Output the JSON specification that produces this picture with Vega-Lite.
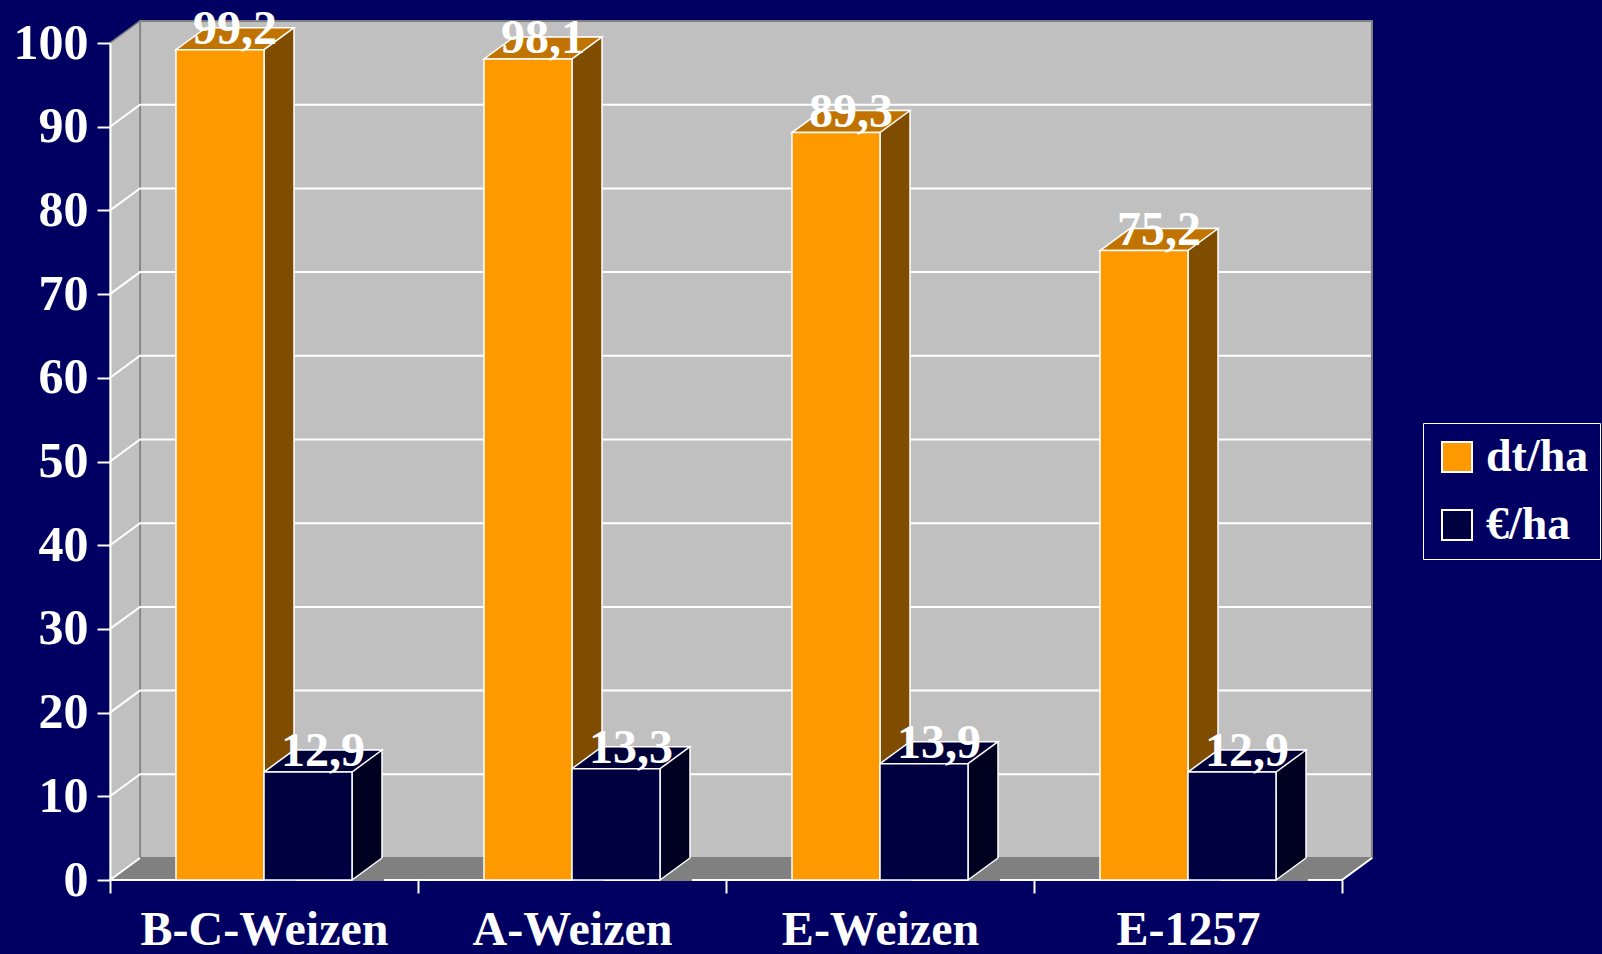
{
  "$schema": "https://vega.github.io/schema/vega-lite/v6.json",
  "width": 1262,
  "height": 859,
  "autosize": {"type": "none"},
  "padding": {"left": 110, "top": 21, "right": 230, "bottom": 74},
  "background": "#000063",
  "config": {
    "view": {"stroke": null},
    "font": "Liberation Serif",
    "locale": {"number": {"decimal": ",", "thousands": ".", "grouping": [3], "currency": ["", " €"]}}
  },
  "datasets": {
    "ertrag": [
      {"sorte": "B-C-Weizen", "serie": "dt/ha", "wert": 99.2},
      {"sorte": "B-C-Weizen", "serie": "€/ha", "wert": 12.9},
      {"sorte": "A-Weizen", "serie": "dt/ha", "wert": 98.1},
      {"sorte": "A-Weizen", "serie": "€/ha", "wert": 13.3},
      {"sorte": "E-Weizen", "serie": "dt/ha", "wert": 89.3},
      {"sorte": "E-Weizen", "serie": "€/ha", "wert": 13.9},
      {"sorte": "E-1257", "serie": "dt/ha", "wert": 75.2},
      {"sorte": "E-1257", "serie": "€/ha", "wert": 12.9}
    ],
    "raster": [
      {"v": 0}, {"v": 10}, {"v": 20}, {"v": 30}, {"v": 40}, {"v": 50},
      {"v": 60}, {"v": 70}, {"v": 80}, {"v": 90}, {"v": 100}
    ]
  },
  "data": {"name": "ertrag"},
  "layer": [
    {
      "data": {"name": "raster"},
      "transform": [{"filter": "datum.v === 0"}],
      "mark": {"type": "point", "shape": "M30,-22L1262,-22L1262,-859L30,-859Z", "size": 4, "filled": true, "fill": "#C0C0C0", "stroke": "#808080", "strokeWidth": 2, "opacity": 1},
      "encoding": {
        "x": {
          "datum": "B-C-Weizen", "type": "nominal", "bandPosition": 0,
          "scale": {"domain": ["B-C-Weizen", "A-Weizen", "E-Weizen", "E-1257"], "range": [0, 1262], "paddingInner": 0, "paddingOuter": 0.0487, "align": 0, "round": false},
          "axis": {"title": null, "domain": false, "tickBand": "extent", "tickColor": "white", "tickWidth": 2, "tickSize": 13, "labelColor": "white", "labelFont": "Liberation Serif", "labelFontWeight": "bold", "labelFontSize": 48, "labelPadding": 13, "labelAngle": 0, "labelLimit": 500, "zindex": 1, "grid": false}
        },
        "y": {
          "datum": 0, "type": "quantitative",
          "scale": {"domain": [0, 100], "range": [859, 22], "nice": false},
          "axis": {"title": null, "values": [0, 10, 20, 30, 40, 50, 60, 70, 80, 90, 100], "grid": false, "domainColor": "white", "domainWidth": 2, "tickColor": "white", "tickWidth": 2, "tickSize": 13, "labelColor": "white", "labelFont": "Liberation Serif", "labelFontWeight": "bold", "labelFontSize": 50, "labelPadding": 9, "zindex": 1}
        }
      }
    },
    {
      "data": {"name": "raster"},
      "transform": [{"filter": "datum.v === 0"}],
      "mark": {"type": "point", "shape": "M0,0L0,-837L30,-859L30,-22Z", "size": 4, "filled": true, "fill": "#C0C0C0", "stroke": "#808080", "strokeWidth": 1.5, "opacity": 1},
      "encoding": {
        "x": {"datum": "B-C-Weizen", "type": "nominal", "bandPosition": 0, "axis": {"title": null}},
        "y": {"datum": 0, "type": "quantitative", "axis": {"title": null}}
      }
    },
    {
      "data": {"name": "raster"},
      "transform": [{"filter": "datum.v === 0"}],
      "mark": {"type": "point", "shape": "M0,0L1232,0L1262,-22L30,-22Z", "size": 4, "filled": true, "fill": "#808080", "strokeWidth": 0, "opacity": 1},
      "encoding": {
        "x": {"datum": "B-C-Weizen", "type": "nominal", "bandPosition": 0, "axis": {"title": null}},
        "y": {"datum": 0, "type": "quantitative", "axis": {"title": null}}
      }
    },
    {
      "data": {"name": "raster"},
      "transform": [{"filter": "datum.v === 0"}],
      "mark": {"type": "point", "shape": "M30,-22L0,0L1232,0L1262,-22", "size": 4, "filled": false, "color": "white", "strokeWidth": 2, "opacity": 1},
      "encoding": {
        "x": {"datum": "B-C-Weizen", "type": "nominal", "bandPosition": 0, "axis": {"title": null}},
        "y": {"datum": 0, "type": "quantitative", "axis": {"title": null}}
      }
    },
    {
      "data": {"name": "raster"},
      "transform": [{"filter": "datum.v > 0 && datum.v < 100"}],
      "mark": {"type": "point", "shape": "M0,0L30,-22L1261,-22", "size": 4, "filled": false, "color": "white", "strokeWidth": 2, "opacity": 1},
      "encoding": {
        "x": {"datum": "B-C-Weizen", "type": "nominal", "bandPosition": 0, "axis": {"title": null}},
        "y": {"field": "v", "type": "quantitative", "axis": {"title": null}}
      }
    },
    {
      "mark": {"type": "bar", "width": 30, "xOffset": {"expr": "datum.serie === 'dt/ha' ? 15 : 103"}, "yOffset": -22, "stroke": "white", "strokeWidth": 1.5},
      "encoding": {
        "x": {"field": "sorte", "type": "nominal", "axis": {"title": null}},
        "y": {"field": "wert", "type": "quantitative", "stack": null, "axis": {"title": null}},
        "fill": {"condition": {"test": "datum.serie === 'dt/ha'", "value": "#7F4C00"}, "value": "#000020"}
      }
    },
    {
      "mark": {"type": "point", "shape": "M44,0L74,-22L76,-22L76,1L44,1Z", "size": 4, "filled": true, "fill": "#808080", "strokeWidth": 0, "opacity": 1},
      "encoding": {
        "x": {"field": "sorte", "type": "nominal", "axis": {"title": null}},
        "xOffset": {"field": "serie", "type": "nominal", "scale": {"domain": ["dt/ha", "€/ha"], "paddingInner": 0, "paddingOuter": 0.75}},
        "y": {"datum": 0, "type": "quantitative", "axis": {"title": null}}
      }
    },
    {
      "mark": {"type": "point", "shape": "M44,0L74,-22", "size": 4, "filled": false, "color": "white", "strokeWidth": 1.5, "opacity": 1},
      "encoding": {
        "x": {"field": "sorte", "type": "nominal", "axis": {"title": null}},
        "xOffset": {"field": "serie", "type": "nominal"},
        "y": {"datum": 0, "type": "quantitative", "axis": {"title": null}}
      }
    },
    {
      "mark": {"type": "point", "shape": "M-44,0L44,0L74,-22L-14,-22Z", "size": 4, "filled": true, "stroke": "white", "strokeWidth": 1.5, "opacity": 1},
      "encoding": {
        "x": {"field": "sorte", "type": "nominal", "axis": {"title": null}},
        "xOffset": {"field": "serie", "type": "nominal"},
        "y": {"field": "wert", "type": "quantitative", "axis": {"title": null}},
        "fill": {"condition": {"test": "datum.serie === 'dt/ha'", "value": "#C07300"}, "value": "#000038"}
      }
    },
    {
      "mark": {"type": "bar", "stroke": "white", "strokeWidth": 1.5, "opacity": 1},
      "encoding": {
        "x": {"field": "sorte", "type": "nominal", "axis": {"title": null}},
        "xOffset": {"field": "serie", "type": "nominal"},
        "y": {"field": "wert", "type": "quantitative", "stack": null, "axis": {"title": null}},
        "color": {
          "field": "serie", "type": "nominal",
          "scale": {"domain": ["dt/ha", "€/ha"], "range": ["#FF9900", "#000040"]},
          "legend": {"orient": "none", "legendX": 1313, "legendY": 402, "direction": "vertical", "title": null, "symbolType": "square", "symbolSize": 900, "symbolStrokeColor": "white", "symbolStrokeWidth": 2, "symbolOpacity": 1, "labelFont": "Liberation Serif", "labelFontWeight": "bold", "labelFontSize": 46, "labelColor": "white", "labelOffset": 6, "rowPadding": 22, "padding": 11, "strokeColor": "white", "fillColor": "#000063"}
        }
      }
    },
    {
      "mark": {"type": "text", "dx": 15, "dy": -6, "align": "center", "baseline": "alphabetic", "font": "Liberation Serif", "fontWeight": "bold", "fontSize": 48, "fill": "white"},
      "encoding": {
        "x": {"field": "sorte", "type": "nominal", "axis": {"title": null}},
        "xOffset": {"field": "serie", "type": "nominal"},
        "y": {"field": "wert", "type": "quantitative", "axis": {"title": null}},
        "text": {"field": "wert", "type": "quantitative", "format": ".1f"}
      }
    }
  ]
}
